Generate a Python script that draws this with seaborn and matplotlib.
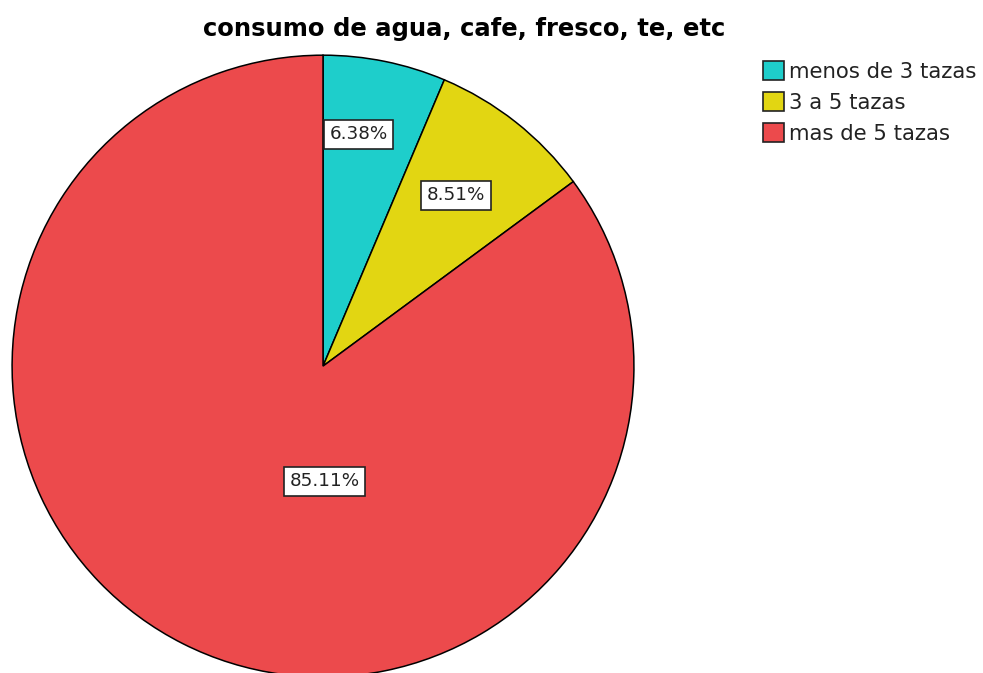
import matplotlib
matplotlib.use("Agg")
import matplotlib.pyplot as plt
import seaborn as sns
from matplotlib.patches import Patch

# datos
categorias = ['menos de 3 tazas', '3 a 5 tazas', 'mas de 5 tazas']
porcentajes = [6.38, 8.51, 85.11]
colores = ['#1ECECB', '#E2D612', '#EC4A4C']
titulo = 'consumo de agua, cafe, fresco, te, etc'

sns.set_theme(style='white')
plt.rcParams['font.family'] = ['DejaVu Sans']

fig = plt.figure(figsize=(9.83, 6.73), dpi=100)
ax = fig.add_axes([0.0122, -0.006, 0.6328, 0.924])

wedges, textos, autotextos = ax.pie(
    porcentajes, colors=colores, startangle=90, counterclock=False,
    autopct='%.2f%%', pctdistance=0.72, radius=1.0,
    wedgeprops=dict(edgecolor='black', linewidth=1.1),
    textprops=dict(fontsize=13.2, color='#222222'))

# posiciones de las etiquetas como en SPSS (la grande debajo del centro)
autotextos[0].set_position((0.115, 0.745))
autotextos[1].set_position((0.428, 0.55))
autotextos[2].set_position((0.005, -0.37))
for t in autotextos:
    t.set_bbox(dict(boxstyle='square,pad=0.3', facecolor='white',
                    edgecolor='#222222', linewidth=1.2))

ax.set_xlim(-1, 1)
ax.set_ylim(-1, 1)
ax.set_aspect('equal')
ax.axis('off')

fig.text(0.472, 0.957, titulo, ha='center', va='center',
         fontsize=17.5, fontweight='bold', color='black')

handles = [Patch(facecolor=c, edgecolor='#222222', linewidth=1.2) for c in colores]
fig.legend(handles, categorias, loc='upper left', bbox_to_anchor=(0.776, 0.909),
           frameon=False, fontsize=15.3, handlelength=1.0, handleheight=1.0,
           handletextpad=0.25, labelspacing=0.48, borderpad=0, borderaxespad=0,
           labelcolor='#222222')

fig.savefig('out.png', dpi=100)
